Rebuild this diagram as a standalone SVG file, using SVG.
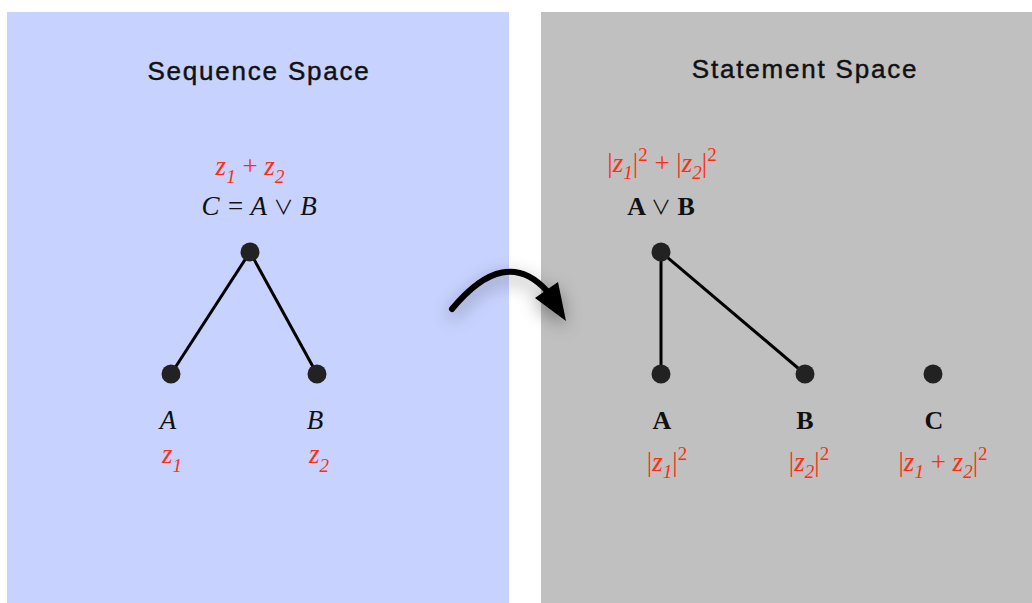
<svg xmlns="http://www.w3.org/2000/svg" width="1032" height="603" viewBox="0 0 1032 603">
<style>
.title{font-family:"Liberation Sans",Arial,sans-serif;font-size:26px;letter-spacing:1.8px;fill:#111;stroke:#111;stroke-width:0.45px;text-anchor:middle}
.it{font-family:"Liberation Serif","Times New Roman",serif;font-style:italic;font-size:27px;fill:#111;text-anchor:middle}
.bd{font-family:"Liberation Serif","Times New Roman",serif;font-weight:bold;font-size:26px;fill:#111;text-anchor:middle}
.red{font-family:"Liberation Serif","Times New Roman",serif;font-size:27px;fill:#ff2d12;text-anchor:middle}
.i{font-style:italic}
.s{font-size:19px}
.or{font-family:"Noto Sans CJK JP","DejaVu Sans",sans-serif;font-style:normal;font-weight:normal;font-size:20px}
.node{fill:#222}
.edge{stroke:#000;stroke-width:3;fill:none}
</style>
<defs>
<filter id="sh" x="-50%" y="-50%" width="200%" height="200%">
<feDropShadow dx="0" dy="6" stdDeviation="9" flood-color="#000" flood-opacity="0.4"/>
</filter>
</defs>
<g id="panel-sequence">
<rect x="7" y="12" width="502" height="591" fill="#c7d2fe"/>
<text class="title" x="259" y="80">Sequence Space</text>
</g>
<g id="panel-statement">
<rect x="541" y="12" width="491" height="591" fill="#c0c0c0"/>
<text class="title" x="805" y="78">Statement Space</text>
</g>
<g id="connectors">
<line class="edge" x1="250" y1="252" x2="171" y2="374"/>
<line class="edge" x1="250" y1="252" x2="317" y2="374"/>
<line class="edge" x1="661" y1="252" x2="661" y2="374"/>
<line class="edge" x1="661" y1="252" x2="805" y2="374"/>
</g>
<g id="arrow" filter="url(#sh)">
<path d="M452,309 Q505,245 547,291" stroke="#000" stroke-width="6" fill="none" stroke-linecap="round"/>
<polygon points="566,321 535,298 558,282" fill="#000"/>
</g>
<g id="node-C">
<text class="red" x="250" y="175"><tspan class="i">z</tspan><tspan class="i s" dy="8">1</tspan><tspan dy="-8"> + </tspan><tspan class="i">z</tspan><tspan class="i s" dy="8">2</tspan></text>
<text class="it" x="259" y="215">C = A <tspan class="or">∨</tspan> B</text>
<circle class="node" cx="250" cy="252" r="9.5"/>
</g>
<g id="node-A-seq">
<circle class="node" cx="171" cy="374" r="9.5"/>
<text class="it" x="168" y="429">A</text>
<text class="red" x="172" y="463"><tspan class="i">z</tspan><tspan class="i s" dy="9">1</tspan></text>
</g>
<g id="node-B-seq">
<circle class="node" cx="317" cy="374" r="9.5"/>
<text class="it" x="315" y="429">B</text>
<text class="red" x="319" y="463"><tspan class="i">z</tspan><tspan class="i s" dy="9">2</tspan></text>
</g>
<g id="node-AvB">
<text class="red" x="662" y="172">|<tspan class="i">z</tspan><tspan class="i s" dy="7">1</tspan><tspan dy="-7">|</tspan><tspan class="s" dy="-11">2</tspan><tspan dy="11"> + |</tspan><tspan class="i">z</tspan><tspan class="i s" dy="7">2</tspan><tspan dy="-7">|</tspan><tspan class="s" dy="-11">2</tspan></text>
<text class="bd" x="661" y="215">A <tspan class="or">∨</tspan> B</text>
<circle class="node" cx="661" cy="252" r="9.5"/>
</g>
<g id="node-A">
<circle class="node" cx="661" cy="374" r="9.5"/>
<text class="bd" x="662" y="429">A</text>
<text class="red" x="667" y="471">|<tspan class="i">z</tspan><tspan class="i s" dy="7">1</tspan><tspan dy="-7">|</tspan><tspan class="s" dy="-11">2</tspan></text>
</g>
<g id="node-B">
<circle class="node" cx="805" cy="374" r="9.5"/>
<text class="bd" x="805" y="429">B</text>
<text class="red" x="809" y="471">|<tspan class="i">z</tspan><tspan class="i s" dy="7">2</tspan><tspan dy="-7">|</tspan><tspan class="s" dy="-11">2</tspan></text>
</g>
<g id="node-C-stmt">
<circle class="node" cx="933" cy="374" r="9.5"/>
<text class="bd" x="934" y="429">C</text>
<text class="red" x="943" y="471">|<tspan class="i">z</tspan><tspan class="i s" dy="7">1</tspan><tspan dy="-7"> + </tspan><tspan class="i">z</tspan><tspan class="i s" dy="7">2</tspan><tspan dy="-7">|</tspan><tspan class="s" dy="-11">2</tspan></text>
</g>
</svg>
